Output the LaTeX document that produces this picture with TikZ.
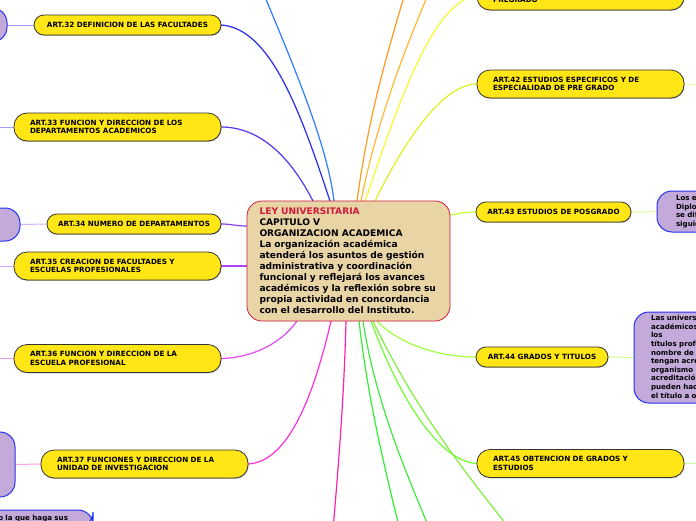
\documentclass[tikz,border=0pt]{standalone}
\usepackage{fontspec}
\setmainfont{DejaVu Sans}
\usetikzlibrary{backgrounds,shadows}
\definecolor{ybox}{HTML}{FFE614}
\definecolor{tanbox}{HTML}{E9D4A6}
\definecolor{crim}{HTML}{CC1A3C}
\definecolor{pbox}{HTML}{C4AADA}
\definecolor{pline}{HTML}{2233EE}
\tikzset{
  ynode/.style={draw=black!80, fill=ybox, line width=0.8pt, rounded corners=13pt,
    inner xsep=16pt, inner ysep=0pt, minimum height=28pt, align=left, outer sep=0pt,
    font=\bfseries\fontsize{7.2}{8.6}\selectfont,
    drop shadow={shadow xshift=0.5pt,shadow yshift=-0.8pt,opacity=0.3,fill=black}},
  ynodeone/.style={ynode, rounded corners=10pt, inner xsep=2pt, minimum height=20pt, align=center},
  pnode/.style={draw=pline, fill=pbox, line width=1pt, rounded corners=15pt, outer sep=0pt,
    inner sep=0pt, font=\bfseries\fontsize{7.1}{8.6}\selectfont, align=left},
  cnode/.style={draw=crim, fill=tanbox, line width=0.8pt, rounded corners=15pt, outer sep=0pt,
    inner xsep=12.5pt, inner ysep=4pt, align=left, font=\bfseries\fontsize{9.1}{11}\selectfont},
  mainedge/.style={line width=1.2pt},
  subedge/.style={line width=1pt}
}
\begin{document}
\begin{tikzpicture}[x=1pt,y=-1pt]
\useasboundingbox (0,0) rectangle (696,520);
\clip (0,0) rectangle (696,520);
% central node
\node[cnode, anchor=north west, minimum width=203pt, minimum height=120pt, text width=178pt] (c) at (247,201)
 {{\color{crim}LEY UNIVERSITARIA}\\
  CAPITULO V\\
  ORGANIZACION ACADEMICA\\
  La organización académica\\
  atenderá los asuntos de gestión\\
  administrativa y coordinación\\
  funcional y reflejará los avances\\
  académicos y la reflexión sobre su\\
  propia actividad en concordancia\\
  con el desarrollo del Instituto.};
% left yellow nodes
\node[ynodeone, minimum width=187pt] (a32) at (127.5,25) {ART.32 DEFINICION DE LAS FACULTADES};
\node[ynode, text width=175pt] (a33) at (117.5,127) {ART.33 FUNCION Y DIRECCION DE LOS\\DEPARTAMENTOS ACADEMICOS};
\node[ynodeone, minimum width=174pt] (a34) at (134,224) {ART.34 NUMERO DE DEPARTAMENTOS};
\node[ynode, text width=175pt] (a35) at (117.5,266) {ART.35 CREACION DE FACULTADES Y\\ESCUELAS PROFESIONALES};
\node[ynode, text width=175pt] (a36) at (117.5,358.5) {ART.36 FUNCION Y DIRECCION DE LA\\ESCUELA PROFESIONAL};
\node[ynode, text width=175pt] (a37) at (144.5,464) {ART.37 FUNCIONES Y DIRECCION DE LA\\UNIDAD DE INVESTIGACION};
% right yellow nodes
\node[ynode, text width=175pt] (a41) at (580.5,-4) {ART.41 ESTUDIOS GENERALES DE\\PREGRADO};
\node[ynode, text width=175pt] (a42) at (580.5,84) {ART.42 ESTUDIOS ESPECIFICOS Y DE\\ESPECIALIDAD DE PRE GRADO};
\node[ynodeone, minimum width=155pt] (a43) at (553.5,212) {ART.43 ESTUDIOS DE POSGRADO};
\node[ynodeone, minimum width=132pt] (a44) at (542,357) {ART.44 GRADOS Y TITULOS};
\node[ynode, text width=175pt] (a45) at (580.5,463.5) {ART.45 OBTENCION DE GRADOS Y\\ESTUDIOS};
% purple nodes
\node[pnode, anchor=east, minimum width=80pt, minimum height=34pt] (p32) at (7,25) {};
\node[pnode, anchor=east, minimum width=80pt, minimum height=33pt] (p34) at (20,224.5) {};
\node[pnode, anchor=east, minimum width=90pt, minimum height=65pt] (p37) at (15,464.5) {};
\node[pnode, anchor=north east, minimum width=200pt, minimum height=17pt, inner xsep=25pt, inner ysep=2pt,
      text width=150pt, align=right] (pb) at (93,510) {o la que haga sus};
\node[pnode, anchor=west, minimum height=41pt, inner xsep=19pt, text width=120pt] (p43) at (657,211.5)
 {Los estudios\\Diplomados\\se diferencian\\siguientes};
\node[pnode, anchor=west, minimum height=91pt, inner xsep=17pt, text width=120pt] (p44) at (634,357.5)
 {Las universidades\\académicos\\los\\títulos profesionales\\nombre de la\\tengan acreditación\\organismo\\acreditación\\pueden hacer\\el título a otorgar};
% free ends off the picture
\coordinate (o1) at (262,-10);
\coordinate (o8) at (333,530);
\coordinate (o9) at (400,530);
\coordinate (o10) at (430,530);
\coordinate (o12) at (512,532);
\coordinate (o17) at (430,-10);
\coordinate (o18) at (406,-10);
\coordinate (l33) at (-20,127);
\coordinate (l35) at (-20,266);
\coordinate (l36) at (-20,358.5);
\coordinate (r42) at (720,84);
\coordinate (r45) at (720,463.5);
\begin{scope}[on background layer]
\clip (0,0) rectangle (696,520);
\fill[white] (0,0) rectangle (696,520);
% edges from the central node
\draw[mainedge, color={rgb,255:red,47;green,123;blue,255}] ([xshift=87pt]c.north west) .. controls (328,150) and (300,80) .. (o1);
\draw[mainedge, color={rgb,255:red,42;green,42;blue,240}] ([xshift=83pt]c.north west) .. controls (300,110) and (270,28) .. (a32.east);
\draw[mainedge, color={rgb,255:red,90;green,53;blue,240}] ([xshift=66pt]c.north west) .. controls (292,160) and (262,127) .. (a33.east);
\draw[mainedge, color={rgb,255:red,140;green,63;blue,240}] ([yshift=-25pt]c.north west) .. controls (235,226) and (232,224) .. (a34.east);
\draw[mainedge, color={rgb,255:red,176;green,69;blue,245}] ([yshift=-65pt]c.north west) -- (a35.east);
\draw[mainedge, color={rgb,255:red,224;green,72;blue,240}] ([xshift=50pt]c.south west) .. controls (280,345) and (250,358) .. (a36.east);
\draw[mainedge, color={rgb,255:red,255;green,48;blue,216}] ([xshift=84pt]c.south west) .. controls (315,390) and (290,462) .. (a37.east);
\draw[mainedge, color={rgb,255:red,255;green,32;blue,176}] ([xshift=99pt]c.south west) .. controls (344,400) and (338,470) .. (o8);
\draw[mainedge, color={rgb,255:red,48;green,240;blue,48}] ([xshift=112pt]c.south west) .. controls (368,400) and (385,470) .. (o9);
\draw[mainedge, color={rgb,255:red,64;green,232;blue,64}] ([xshift=116pt]c.south west) .. controls (375,400) and (405,470) .. (o10);
\draw[mainedge, color={rgb,255:red,112;green,255;blue,48}] ([xshift=124pt]c.south west) .. controls (400,400) and (440,462) .. (a45.west);
\draw[mainedge, color={rgb,255:red,128;green,240;blue,64}] ([xshift=126pt]c.south west) .. controls (420,420) and (480,490) .. (o12);
\draw[mainedge, color={rgb,255:red,160;green,255;blue,64}] ([xshift=130pt]c.south west) .. controls (400,345) and (440,357) .. (a44.west);
\draw[mainedge, color={rgb,255:red,200;green,255;blue,48}] ([yshift=-14pt]c.north east) .. controls (462,213) and (466,212) .. (a43.west);
\draw[mainedge, color={rgb,255:red,224;green,240;blue,32}] ([xshift=128pt]c.north west) .. controls (400,150) and (440,84) .. (a42.west);
\draw[mainedge, color={rgb,255:red,248;green,248;blue,48}] ([xshift=118pt]c.north west) .. controls (390,130) and (430,-2) .. (a41.west);
\draw[mainedge, color={rgb,255:red,255;green,184;blue,48}] ([xshift=114pt]c.north west) .. controls (375,130) and (400,60) .. (o17);
\draw[mainedge, color={rgb,255:red,255;green,154;blue,32}] ([xshift=110pt]c.north west) .. controls (368,120) and (385,60) .. (o18);
% edges from the articles to their children
\draw[subedge, color={rgb,255:red,154;green,154;blue,255}] (a32.west) -- (p32.east);
\draw[subedge, color={rgb,255:red,160;green,160;blue,255}] (a33.west) -- (l33);
\draw[subedge, color={rgb,255:red,208;green,176;blue,255}] (a34.west) -- (p34.east);
\draw[subedge, color={rgb,255:red,216;green,168;blue,255}] (a35.west) -- (l35);
\draw[subedge, color={rgb,255:red,240;green,160;blue,240}] (a36.west) -- (l36);
\draw[subedge, color={rgb,255:red,255;green,160;blue,240}] (a37.west) -- (p37.east);
\draw[subedge, color={rgb,255:red,240;green,248;blue,160}] (a42.east) -- (r42);
\draw[subedge, color={rgb,255:red,224;green,255;blue,160}] (a43.east) -- (p43.west);
\draw[subedge, color={rgb,255:red,208;green,255;blue,144}] (a44.east) -- (p44.west);
\draw[subedge, color={rgb,255:red,192;green,255;blue,160}] (a45.east) -- (r45);
\end{scope}
\end{tikzpicture}
\end{document}
